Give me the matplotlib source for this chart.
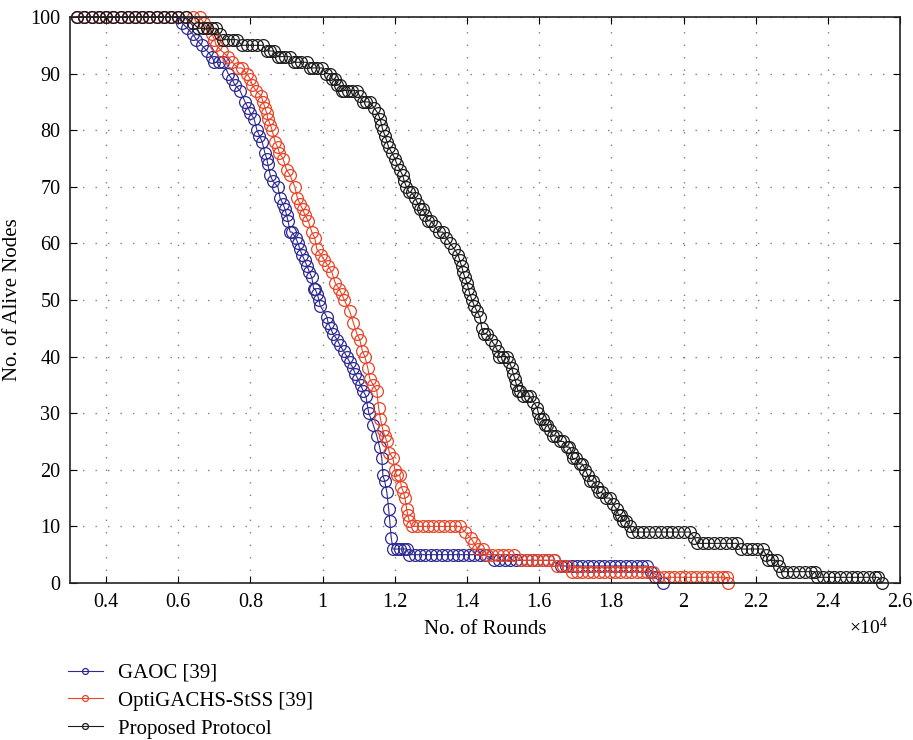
import matplotlib
matplotlib.use("Agg")
import matplotlib.pyplot as plt

plt.rcParams["font.family"] = ["Liberation Serif", "DejaVu Serif"]
plt.rcParams["mathtext.fontset"] = "custom"
plt.rcParams["mathtext.rm"] = "Liberation Serif"

# rounds are in units of 10^4
gaoc_x = [0.32, 0.34, 0.36, 0.38, 0.40, 0.42, 0.44, 0.46, 0.48, 0.50, 0.52, 0.54, 0.56, 0.58, 0.60,
          0.61, 0.625, 0.64, 0.65, 0.665, 0.68, 0.693, 0.70, 0.712, 0.724, 0.738, 0.749, 0.757, 0.771,
          0.785, 0.793, 0.80, 0.81, 0.818, 0.825, 0.832, 0.84, 0.845, 0.848, 0.855, 0.862, 0.876,
          0.882, 0.89, 0.896, 0.90, 0.904, 0.91, 0.915, 0.925, 0.932, 0.937, 0.943, 0.95, 0.957,
          0.963, 0.97, 0.975, 0.979, 0.985, 0.99, 0.993, 1.012, 1.015, 1.022, 1.029, 1.04, 1.048,
          1.058, 1.067, 1.075, 1.084, 1.09, 1.098, 1.105, 1.112, 1.12, 1.125, 1.128, 1.14, 1.15,
          1.158, 1.164, 1.167, 1.172, 1.178, 1.183, 1.186, 1.19, 1.195, 1.205, 1.214, 1.225, 1.233,
          1.24, 1.255, 1.27, 1.285, 1.30, 1.315, 1.33, 1.345, 1.36, 1.375, 1.39, 1.405, 1.42, 1.435,
          1.45, 1.475, 1.49, 1.505, 1.52, 1.535, 1.55, 1.565, 1.58, 1.595, 1.61, 1.625, 1.64, 1.66,
          1.675, 1.69, 1.705, 1.72, 1.735, 1.75, 1.765, 1.78, 1.795, 1.81, 1.825, 1.84, 1.855, 1.87,
          1.885, 1.90, 1.91, 1.92, 1.943]
gaoc_y = [100, 100, 100, 100, 100, 100, 100, 100, 100, 100, 100, 100, 100, 100, 100,
          99, 98, 97, 96, 95, 94, 93, 92, 92, 92, 90, 89, 88, 87,
          85, 84, 83, 82, 80, 79, 78, 76, 75, 74, 72, 71, 70,
          68, 67, 66, 65, 64, 62, 62, 61, 60, 59, 58, 57, 56,
          55, 54, 52, 52, 51, 50, 49, 47, 46, 45, 44, 43, 42,
          41, 40, 39, 38, 37, 36, 35, 34, 33, 31, 30, 28, 26,
          24, 22, 19, 18, 16, 13, 11, 8, 6, 6, 6, 6, 6,
          5, 5, 5, 5, 5, 5, 5, 5, 5, 5, 5, 5, 5, 5,
          5, 4, 4, 4, 4, 4, 4, 4, 4, 4, 4, 4, 4, 3,
          3, 3, 3, 3, 3, 3, 3, 3, 3, 3, 3, 3, 3, 3,
          3, 3, 2, 1, 0]

opti_x = [0.32, 0.34, 0.36, 0.38, 0.40, 0.42, 0.44, 0.46, 0.48, 0.50, 0.52, 0.54, 0.56, 0.58, 0.60,
          0.62, 0.64, 0.66, 0.67, 0.68, 0.693, 0.70, 0.705, 0.72, 0.738, 0.75, 0.765, 0.776, 0.79,
          0.80, 0.805, 0.815, 0.83, 0.835, 0.84, 0.845, 0.848, 0.855, 0.86, 0.868, 0.875, 0.88,
          0.89, 0.90, 0.91, 0.923, 0.93, 0.937, 0.945, 0.951, 0.96, 0.97, 0.978, 0.984, 0.995,
          1.005, 1.015, 1.025, 1.035, 1.045, 1.053, 1.06, 1.075, 1.085, 1.095, 1.103, 1.11, 1.117,
          1.125, 1.131, 1.14, 1.15, 1.155, 1.16, 1.167, 1.172, 1.178, 1.185, 1.195, 1.20, 1.205,
          1.214, 1.218, 1.224, 1.228, 1.233, 1.236, 1.24, 1.247, 1.262, 1.277, 1.292, 1.307, 1.322,
          1.337, 1.352, 1.367, 1.38, 1.395, 1.41, 1.42, 1.43, 1.445, 1.455, 1.47, 1.485, 1.50,
          1.515, 1.53, 1.55, 1.565, 1.58, 1.595, 1.61, 1.625, 1.64, 1.65, 1.665, 1.68, 1.69, 1.705,
          1.72, 1.735, 1.75, 1.765, 1.78, 1.795, 1.81, 1.825, 1.84, 1.855, 1.87, 1.885, 1.90, 1.915,
          1.93, 1.945, 1.96, 1.975, 1.99, 2.005, 2.02, 2.035, 2.05, 2.065, 2.08, 2.095, 2.11, 2.12,
          2.123]
opti_y = [100, 100, 100, 100, 100, 100, 100, 100, 100, 100, 100, 100, 100, 100, 100,
          100, 100, 100, 99, 98, 97, 96, 95, 94, 93, 92, 91, 91, 90,
          89, 88, 87, 86, 85, 84, 83, 82, 81, 80, 78, 77, 76,
          75, 73, 72, 70, 68, 67, 66, 65, 64, 62, 61, 59, 58,
          57, 56, 55, 53, 52, 51, 50, 48, 46, 44, 43, 41, 40,
          38, 36, 35, 34, 31, 29, 27, 26, 25, 23, 22, 20, 19,
          19, 17, 16, 15, 13, 12, 11, 10, 10, 10, 10, 10, 10,
          10, 10, 10, 10, 9, 8, 7, 6, 6, 5, 5, 5, 5,
          5, 5, 4, 4, 4, 4, 4, 4, 4, 3, 3, 3, 2, 2,
          2, 2, 2, 2, 2, 2, 2, 2, 2, 2, 2, 2, 2, 2,
          1, 1, 1, 1, 1, 1, 1, 1, 1, 1, 1, 1, 1, 1,
          0]

prop_x = [0.32, 0.34, 0.36, 0.38, 0.40, 0.42, 0.44, 0.46, 0.48, 0.50, 0.52, 0.54, 0.56, 0.58, 0.60,
          0.62, 0.64, 0.655, 0.668, 0.68, 0.693, 0.705, 0.715, 0.724, 0.737, 0.751, 0.763, 0.776,
          0.79, 0.805, 0.818, 0.835, 0.845, 0.854, 0.865, 0.876, 0.886, 0.896, 0.909, 0.92, 0.929,
          0.94, 0.957, 0.965, 0.973, 0.985, 0.998, 1.01, 1.02, 1.027, 1.034, 1.04, 1.048, 1.053,
          1.06, 1.07, 1.082, 1.095, 1.103, 1.112, 1.12, 1.131, 1.142, 1.153, 1.159, 1.163, 1.167,
          1.173, 1.178, 1.183, 1.192, 1.20, 1.206, 1.214, 1.222, 1.226, 1.232, 1.24, 1.247, 1.256,
          1.264, 1.27, 1.278, 1.285, 1.292, 1.30, 1.311, 1.322, 1.333, 1.343, 1.353, 1.365, 1.375,
          1.38, 1.385, 1.389, 1.394, 1.40, 1.404, 1.408, 1.414, 1.42, 1.428, 1.436, 1.441, 1.448,
          1.455, 1.466, 1.477, 1.485, 1.49, 1.50, 1.51, 1.517, 1.524, 1.528, 1.533, 1.537, 1.541,
          1.548, 1.555, 1.565, 1.574, 1.584, 1.594, 1.598, 1.602, 1.61, 1.616, 1.623, 1.63, 1.638,
          1.648, 1.657, 1.667, 1.677, 1.684, 1.69, 1.693, 1.703, 1.713, 1.72, 1.728, 1.735, 1.742,
          1.75, 1.76, 1.765, 1.773, 1.785, 1.796, 1.804, 1.815, 1.82, 1.826, 1.832, 1.84, 1.851,
          1.857, 1.873, 1.889, 1.905, 1.921, 1.937, 1.953, 1.969, 1.985, 2.001, 2.017, 2.03, 2.037,
          2.053, 2.069, 2.085, 2.101, 2.117, 2.133, 2.147, 2.16, 2.175, 2.19, 2.205, 2.22, 2.228,
          2.234, 2.246, 2.258, 2.265, 2.272, 2.288, 2.304, 2.32, 2.336, 2.352, 2.364, 2.37, 2.386,
          2.402, 2.418, 2.434, 2.45, 2.466, 2.482, 2.498, 2.514, 2.53, 2.54, 2.55]
prop_y = [100, 100, 100, 100, 100, 100, 100, 100, 100, 100, 100, 100, 100, 100, 100,
          100, 99, 98, 98, 98, 98, 98, 97, 96, 96, 96, 96, 95,
          95, 95, 95, 95, 94, 94, 94, 93, 93, 93, 93, 92, 92,
          92, 92, 91, 91, 91, 91, 90, 90, 89, 89, 88, 88, 87,
          87, 87, 87, 87, 86, 85, 85, 85, 84, 83, 82, 81, 80,
          79, 78, 77, 76, 75, 74, 73, 72, 71, 70, 69, 69, 68,
          67, 66, 66, 65, 64, 64, 63, 62, 62, 61, 60, 59, 58,
          57, 56, 55, 54, 53, 52, 51, 50, 49, 48, 47, 45, 44,
          44, 43, 42, 41, 40, 40, 40, 39, 38, 37, 36, 35, 34,
          34, 33, 33, 33, 32, 31, 30, 29, 29, 28, 28, 27, 26,
          26, 25, 25, 24, 24, 23, 22, 22, 21, 21, 20, 19, 18,
          18, 17, 16, 16, 15, 15, 14, 13, 12, 12, 11, 11, 10,
          9, 9, 9, 9, 9, 9, 9, 9, 9, 9, 9, 8, 7,
          7, 7, 7, 7, 7, 7, 7, 6, 6, 6, 6, 6, 5,
          4, 4, 4, 3, 2, 2, 2, 2, 2, 2, 2, 1, 1,
          1, 1, 1, 1, 1, 1, 1, 1, 1, 1, 0]

series = [
    ("GAOC [39]", gaoc_x, gaoc_y, "#2e2a92"),
    ("OptiGACHS-StSS [39]", opti_x, opti_y, "#ea4326"),
    ("Proposed Protocol", prop_x, prop_y, "#1c1c1c"),
]

fig = plt.figure(figsize=(9.13, 7.40), dpi=100)
ax = fig.add_axes([0.0767, 0.2122, 0.9091, 0.7648])

for label, xs, ys, color in series:
    ax.plot(xs, ys, color=color, lw=0.8, marker="o", ms=8.5,
            mfc="none", mec=color, mew=0.9, label=label, clip_on=False)

ax.set_xlim(0.3, 2.6)
ax.set_ylim(0, 100)
ax.set_xticks([0.4, 0.6, 0.8, 1, 1.2, 1.4, 1.6, 1.8, 2, 2.2, 2.4, 2.6])
ax.set_xticklabels(["0.4", "0.6", "0.8", "1", "1.2", "1.4", "1.6", "1.8", "2", "2.2", "2.4", "2.6"])
ax.set_yticks(range(0, 101, 10))
ax.tick_params(direction="in", top=True, right=True, length=5, width=0.8,
               labelsize=14.5, pad=7)
ax.grid(True, color="#808080", lw=1.0, linestyle=(0, (1, 8)))
for sp in ax.spines.values():
    sp.set_linewidth(1.2)
    sp.set_color("#222222")

ax.set_xlabel("No. of Rounds", fontsize=15, labelpad=6)
ax.set_ylabel("No. of Alive Nodes", fontsize=15, labelpad=6)
fig.text(0.951, 0.152, r"$\times\mathregular{10^{4}}$", fontsize=14, ha="center", va="center")

fig.legend(loc="upper left", bbox_to_anchor=(0.065, 0.115), frameon=False,
           fontsize=15, markerscale=0.5, handlelength=1.7, handletextpad=0.7,
           labelspacing=0.4, borderaxespad=0)

fig.savefig("out.png", dpi=100)
